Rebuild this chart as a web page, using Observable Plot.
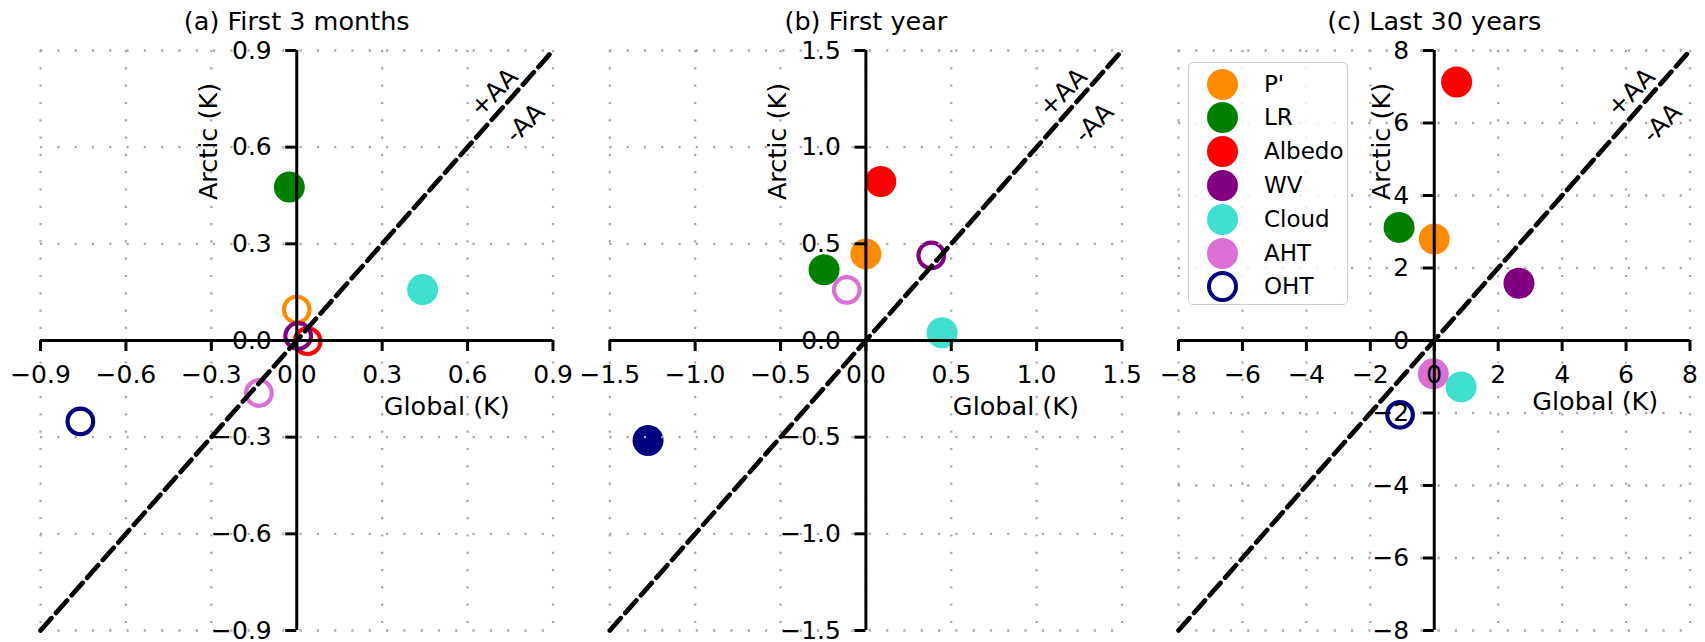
<!DOCTYPE html>
<html>
<head>
<meta charset="utf-8">
<script src="https://cdn.jsdelivr.net/npm/d3@7"></script>
<script src="https://cdn.jsdelivr.net/npm/@observablehq/plot@0.6"></script>
<style>
  html, body { margin: 0; padding: 0; background: white; }
  #fig { position: relative; width: 1705px; height: 642px; overflow: hidden; font-family: "DejaVu Sans", sans-serif; }
  #fig svg { position: absolute; left: 0; top: 0; overflow: visible; }
  #legend { position: absolute; left: 1188px; top: 62px; width: 160px; height: 243px; box-sizing: border-box;
            border: 1.3px solid #cccccc; border-radius: 5px; background: rgba(255,255,255,0.8); }
  .sw { position: absolute; box-sizing: border-box; width: 31px; height: 31px; border-radius: 50%; }
  .lt { position: absolute; font-size: 23px; line-height: 1; color: black; white-space: pre; }
</style>
</head>
<body>
<div id="fig"></div>
<script>
// ---- data ----
const series = ["P'", "LR", "Albedo", "WV", "Cloud", "AHT", "OHT"];
const colors = ["darkorange", "green", "red", "purple", "turquoise", "orchid", "navy"];

const titles = ["(a) First 3 months", "(b) First year", "(c) Last 30 years"];
const xLabel = "Global (K)";
const yLabel = "Arctic (K)";

// panel (a) First 3 months
const globalA = [0.0, -0.026, 0.038, 0.005, 0.442, -0.133, -0.760];
const arcticA = [0.096, 0.476, -0.002, 0.014, 0.158, -0.163, -0.251];
const filledA = [false, true, false, false, true, false, false];
const ticksA = [-0.9, -0.6, -0.3, 0.0, 0.3, 0.6, 0.9];

// panel (b) First year
const globalB = [0.0, -0.245, 0.087, 0.383, 0.446, -0.112, -1.276];
const arcticB = [0.448, 0.366, 0.822, 0.440, 0.040, 0.262, -0.517];
const filledB = [true, true, true, false, true, false, true];
const ticksB = [-1.5, -1.0, -0.5, 0.0, 0.5, 1.0, 1.5];

// panel (c) Last 30 years
const globalC = [0.0, -1.10, 0.70, 2.65, 0.84, -0.03, -1.07];
const arcticC = [2.80, 3.12, 7.13, 1.58, -1.28, -0.92, -2.05];
const filledC = [true, true, true, true, true, true, false];
const ticksC = [-8, -6, -4, -2, 0, 2, 4, 6, 8];

const aaLabels = ["+AA", "-AA"];
const aaFracX = [0.770, 0.891];
const aaFracY = [0.855, 0.749];

// ---- drawing ----
const W = 1705, H = 642, MT = 50, MB = 12;
const FONT = "DejaVu Sans";

function panel({gx, ay, filled, ticks, fmt, title, left, right, ylabDx, xlabDx, xlabDy}) {
  const lim = d3.max(ticks);
  const pw = W - left - right, ph = H - MT - MB;
  const pts = series.map((s, i) => ({name: s, color: colors[i], x: gx[i], y: ay[i], filled: filled[i]}));
  const diag = [{x: -lim, y: -lim}, {x: lim, y: lim}];
  const aa = aaLabels.map((t, i) => ({t, x: aaFracX[i] * lim, y: aaFracY[i] * lim}));
  const grid = {stroke: "#a9a9a9", strokeOpacity: 1, strokeWidth: 2.3, strokeDasharray: "2.2,15.1"};
  return Plot.plot({
    width: W, height: H,
    marginTop: MT, marginBottom: MB, marginLeft: left, marginRight: right,
    x: {domain: [-lim, lim], axis: null},
    y: {domain: [-lim, lim], axis: null},
    color: {type: "identity"},
    style: {fontFamily: FONT, background: "transparent", overflow: "visible", color: "black"},
    marks: [
      Plot.dot(pts.filter(d => d.filled), {x: "x", y: "y", r: 15.5, fill: "color", stroke: null}),
      Plot.dot(pts.filter(d => !d.filled), {x: "x", y: "y", r: 12.8, fill: "none", stroke: "color", strokeWidth: 4.2}),
      Plot.gridX(ticks, grid),
      Plot.gridY(ticks, grid),
      Plot.line(diag, {x: "x", y: "y", stroke: "black", strokeWidth: 4.7, strokeDasharray: "16.5,7"}),
      Plot.ruleX([0], {stroke: "black", strokeWidth: 3}),
      Plot.ruleY([0], {stroke: "black", strokeWidth: 3}),
      Plot.axisX(ticks, {anchor: "bottom", dy: -ph / 2, tickSize: 11, tickPadding: 14, tickFormat: fmt,
                         fontSize: 25, strokeWidth: 3, label: null}),
      Plot.axisY(ticks, {anchor: "left", dx: pw / 2, tickSize: 11, tickPadding: 14, tickFormat: fmt,
                         fontSize: 25, strokeWidth: 3, label: null}),
      Plot.text(aa, {x: "x", y: "y", text: "t", rotate: -45, fontSize: 25}),
      Plot.text([title], {frameAnchor: "top", dy: -28.7, fontSize: 25.5, lineAnchor: "middle"}),
      Plot.text([xLabel], {frameAnchor: "middle", dx: xlabDx, dy: xlabDy, fontSize: 25.5, lineAnchor: "middle"}),
      Plot.text([yLabel], {frameAnchor: "middle", dx: ylabDx, dy: -199, rotate: -90, fontSize: 25.5, lineAnchor: "middle"})
    ]
  });
}

const fig = document.getElementById("fig");
const f1 = d3.format(".1f"), f0 = d3.format("d");
fig.append(panel({gx: globalA, ay: arcticA, filled: filledA, ticks: ticksA, fmt: f1, title: titles[0],
                  left: 40, right: W - 552.5, ylabDx: -88, xlabDx: 150, xlabDy: 66}));
fig.append(panel({gx: globalB, ay: arcticB, filled: filledB, ticks: ticksB, fmt: f1, title: titles[1],
                  left: 609.3, right: W - 1121.5, ylabDx: -88, xlabDx: 150, xlabDy: 66}));
fig.append(panel({gx: globalC, ay: arcticC, filled: filledC, ticks: ticksC, fmt: f0, title: titles[2],
                  left: 1178, right: W - 1689.5, ylabDx: -52, xlabDx: 161, xlabDy: 61}));

// legend (panel c)
const legend = d3.select(fig).append("div").attr("id", "legend");
series.forEach((s, i) => {
  const hollow = !filledC[i];
  legend.append("div").attr("class", "sw")
    .style("left", (33.7 - 15.5) + "px")
    .style("top", (21 + i * 33.8 - 15.5) + "px")
    .style("background", hollow ? "transparent" : colors[i])
    .style("border", hollow ? `4.2px solid ${colors[i]}` : "none");
  legend.append("div").attr("class", "lt")
    .style("left", "75px")
    .style("top", (21 + i * 33.8 - 11.5) + "px")
    .text(s);
});
</script>
</body>
</html>
